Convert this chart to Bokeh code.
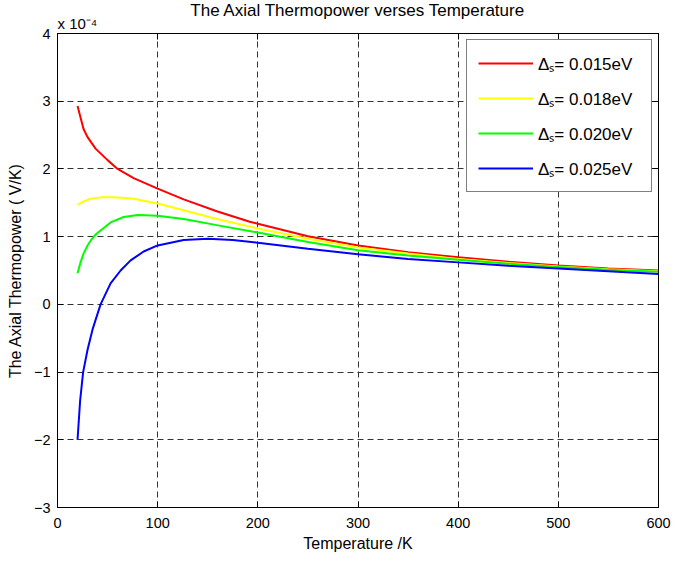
from bokeh.plotting import figure
from bokeh.models import (Range1d, LinearAxis, FixedTicker, Legend, LegendItem, Title)
from bokeh.embed import file_html
from bokeh.resources import INLINE

# ---- data (thermopower in units of 1e-4 V/K) ----
T_015 = [20, 26, 30, 38, 50, 60, 76, 100, 126, 159, 192, 200, 250, 300, 350, 400, 450, 500, 550, 600]
S_015 = [2.93, 2.59, 2.47, 2.30, 2.13, 2.00, 1.865, 1.71, 1.55, 1.375, 1.22, 1.19, 1.005, 0.87, 0.77, 0.695, 0.63, 0.575, 0.53, 0.50]

T_018 = [20, 26, 33, 43, 53, 65, 76, 100, 126, 159, 200, 250, 300, 350, 400, 450, 500, 550, 600]
S_018 = [1.47, 1.52, 1.56, 1.58, 1.58, 1.575, 1.56, 1.49, 1.39, 1.26, 1.12, 0.97, 0.84, 0.75, 0.67, 0.61, 0.56, 0.52, 0.49]

T_020 = [20, 23, 26, 30, 33, 38, 43, 53, 66, 80, 100, 126, 159, 200, 250, 300, 350, 400, 450, 500, 550, 600]
S_020 = [0.46, 0.62, 0.75, 0.87, 0.94, 1.03, 1.09, 1.21, 1.29, 1.32, 1.31, 1.26, 1.17, 1.06, 0.92, 0.80, 0.72, 0.66, 0.60, 0.55, 0.51, 0.48]

T_025 = [20, 22.6, 25.6, 30, 35, 43, 53, 63, 73, 86, 100, 126, 150, 175, 200, 250, 300, 350, 400, 450, 500, 550, 600]
S_025 = [-2.0, -1.42, -1.0, -0.67, -0.37, 0.0, 0.31, 0.50, 0.65, 0.78, 0.87, 0.95, 0.97, 0.95, 0.91, 0.82, 0.74, 0.67, 0.62, 0.57, 0.53, 0.49, 0.45]

gaps = ["0.015eV", "0.018eV", "0.020eV", "0.025eV"]
colors = ["#ff0000", "#ffff00", "#00ff00", "#0000ff"]
series = [(T_015, S_015), (T_018, S_018), (T_020, S_020), (T_025, S_025)]

x_ticks = [0, 100, 200, 300, 400, 500, 600]
y_ticks = [-3, -2, -1, 0, 1, 2, 3, 4]

FONT = "Liberation Sans"
W, H = 675, 563
ML, MR, MT, MB = 57, 17, 33, 56
FW, FH = W - ML - MR, H - MT - MB

p = figure(width=W, height=H, output_backend="svg", toolbar_location=None,
           x_range=Range1d(0, 600), y_range=Range1d(-3, 4),
           min_border_left=ML, min_border_right=MR, min_border_top=MT, min_border_bottom=MB,
           x_axis_label="Temperature /K", y_axis_label="The Axial Thermopower ( V/K)")
p.background_fill_color = "white"
p.border_fill_color = "white"
p.outline_line_color = "black"
p.outline_line_width = 1

for ax in (p.xaxis[0], p.yaxis[0]):
    ax.major_tick_in = 6
    ax.major_tick_out = 0
    ax.minor_tick_in = 0
    ax.minor_tick_out = 0
    ax.axis_line_color = "black"
    ax.major_tick_line_color = "black"
    ax.major_label_text_font = FONT
    ax.major_label_text_font_size = "14.5px"
    ax.major_label_text_color = "black"
    ax.axis_label_text_font = FONT
    ax.axis_label_text_font_size = "16px"
    ax.axis_label_text_font_style = "normal"
    ax.axis_label_text_color = "black"
p.xaxis[0].ticker = FixedTicker(ticks=x_ticks)
p.yaxis[0].ticker = FixedTicker(ticks=y_ticks)
p.xaxis[0].major_label_standoff = 10
p.xaxis[0].axis_label_standoff = 4
p.yaxis[0].major_label_standoff = 7
p.yaxis[0].axis_label_standoff = 7

for loc, ticks in (("above", x_ticks), ("right", y_ticks)):
    ax = LinearAxis(ticker=FixedTicker(ticks=ticks))
    ax.major_tick_in = 6
    ax.major_tick_out = 0
    ax.minor_tick_in = 0
    ax.minor_tick_out = 0
    ax.major_label_text_font_size = "1px"
    ax.major_label_text_color = None
    ax.major_label_standoff = 0
    ax.axis_label_standoff = 0
    ax.axis_line_color = "black"
    p.add_layout(ax, loc)

for g in (p.xgrid[0], p.ygrid[0]):
    g.grid_line_color = "#333333"
    g.grid_line_dash = "6 4"
    g.grid_line_width = 1
p.xgrid[0].ticker = FixedTicker(ticks=x_ticks)
p.ygrid[0].ticker = FixedTicker(ticks=y_ticks)

renderers = []
for (tx, sy), c in zip(series, colors):
    r = p.line(tx, sy, line_color=c, line_width=2)
    renderers.append(r)

# legend
PAD, GW, GH, STAND, LW, SPACING = 11, 55, 24, 5, 102, 11
leg_w = PAD * 2 + GW + STAND + LW
leg_left = FW - 8 - leg_w
leg_bottom = FH - 159
legend = Legend(items=[LegendItem(label="\u0394\u209b= " + g, renderers=[r])
                       for g, r in zip(gaps, renderers)],
                location=(leg_left, leg_bottom),
                padding=PAD, spacing=SPACING, glyph_width=GW, glyph_height=GH,
                label_height=GH, label_width=LW, label_standoff=STAND, margin=0,
                border_line_color="black", border_line_width=1,
                background_fill_color="white", background_fill_alpha=1,
                label_text_font=FONT, label_text_font_size="17px",
                label_text_color="black")
p.add_layout(legend)

# exponent note (closest to frame) and main title (outermost)
note = Title(text="x 10\u207b\u2074", align="left", text_font=FONT,
             text_font_size="15px", text_font_style="normal", text_color="black")
try:
    note.standoff = 4
except ValueError:
    pass
p.add_layout(note, "above")

p.title.text = "The Axial Thermopower verses Temperature"
p.title.align = "center"
p.title.text_font = FONT
p.title.text_font_size = "17px"
p.title.text_font_style = "normal"
p.title.text_color = "black"
try:
    p.title.standoff = -18
except ValueError:
    p.title.standoff = 0

open("out.html", "w").write(file_html(p, INLINE))
